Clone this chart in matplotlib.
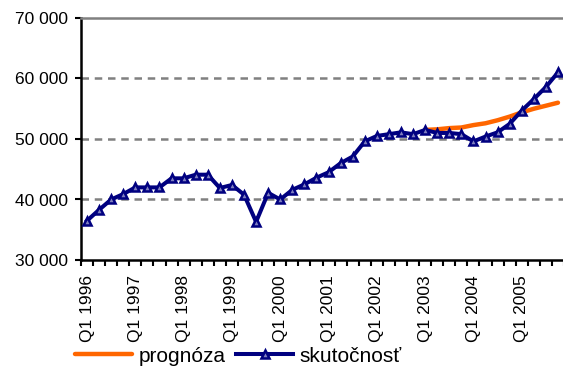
import numpy as np
import matplotlib.pyplot as plt
import matplotlib.ticker as mtick

plt.rcParams['font.family'] = ['Liberation Sans', 'DejaVu Sans']

# quarterly data Q1 1996 .. Q4 2005
years = list(range(1996, 2006))
quarters = [f'Q{q} {y}' for y in years for q in range(1, 5)]

skutocnost = [36500, 38300, 40000, 40900,
              42000, 42000, 42000, 43500,
              43500, 44100, 44100, 41900,
              42400, 40800, 36300, 41100,
              40000, 41600, 42500, 43600,
              44500, 46000, 47100, 49600,
              50500, 50800, 51100, 50800,
              51500, 51000, 51000, 50800,
              49600, 50400, 51100, 52500,
              54700, 56600, 58600, 61000]

prognoza = [np.nan] * 28 + [51500, 51600, 51800, 51900,
                            52300, 52600, 53100, 53700,
                            54400, 55000, 55500, 56000]

x = np.arange(len(quarters))

fig = plt.figure(figsize=(5.63, 3.72), dpi=100)
ax = fig.add_axes([81 / 563, 1 - 260 / 372, 483 / 563, 242 / 372])

ax.plot(x, prognoza, color='#ff6600', lw=3.2, label='prognóza', solid_capstyle='round', zorder=3)
ax.plot(x, skutocnost, color='#000080', lw=2.9, marker='^', markersize=6,
        markerfacecolor='#8080c0', markeredgecolor='#000080', markeredgewidth=1.8,
        label='skutočnosť', zorder=4)

ax.set_xlim(-0.5, 39.5)
ax.set_ylim(30000, 70000)
ax.set_yticks([30000, 40000, 50000, 60000, 70000])
ax.yaxis.set_major_formatter(mtick.FuncFormatter(lambda v, p: f'{v:,.0f}'.replace(',', ' ')))

# grid
for v in [40000, 50000, 60000]:
    ax.axhline(v, color='#808080', lw=1.8, ls=(0, (3, 2.3)), zorder=1)

ax.spines['right'].set_visible(False)
ax.spines['top'].set_color('#808080')
ax.spines['top'].set_linewidth(1.8)
ax.spines['left'].set_linewidth(1.8)
ax.spines['bottom'].set_linewidth(1.8)

ax.set_xticks(x[::4])
ax.set_xticklabels(quarters[::4], rotation=90, fontsize=12.5)
ax.set_xticks(np.arange(-0.5, 40, 1), minor=True)
ax.tick_params(axis='x', which='major', length=0, pad=11)
ax.tick_params(axis='x', which='minor', length=4.5, width=1.5, direction='out')
ax.tick_params(axis='y', length=4.5, width=1.5, pad=5, labelsize=12.5)

fig.legend(loc='center left', bbox_to_anchor=(75 / 563, 1 - 356 / 372), ncol=2,
           frameon=False, fontsize=15, handlelength=2.75, handletextpad=0.3,
           columnspacing=0.5, borderpad=0, borderaxespad=0)

fig.savefig('out.png', dpi=100)
plt.close(fig)
